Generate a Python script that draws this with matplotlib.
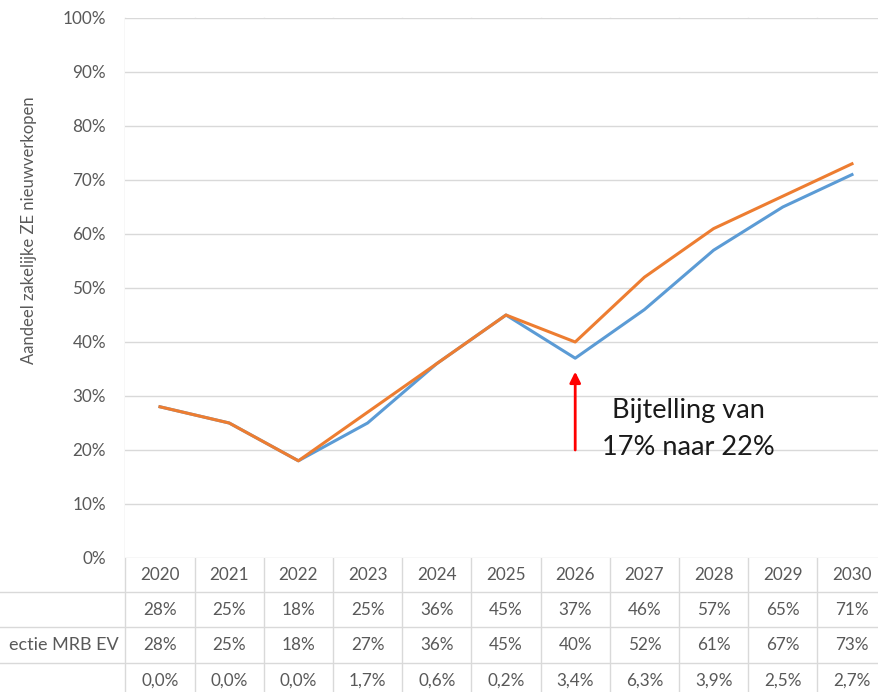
import matplotlib
matplotlib.use("Agg")
import matplotlib.pyplot as plt
from matplotlib.lines import Line2D
from matplotlib.transforms import blended_transform_factory

plt.rcParams['font.family'] = ['Lato', 'DejaVu Sans']

# ---- data ----
years = ['2020', '2021', '2022', '2023', '2024', '2025', '2026', '2027', '2028', '2029', '2030']
base = [0.28, 0.25, 0.18, 0.25, 0.36, 0.45, 0.37, 0.46, 0.57, 0.65, 0.71]
mrb = [0.28, 0.25, 0.18, 0.27, 0.36, 0.45, 0.40, 0.52, 0.61, 0.67, 0.73]
diff_labels = ['0,0%', '0,0%', '0,0%', '1,7%', '0,6%', '0,2%', '3,4%', '6,3%', '3,9%', '2,5%', '2,7%']
row_labels = ['', 'ectie MRB EV', '']   # label is cropped at the left edge in the reference
y_ticks = [0, 0.1, 0.2, 0.3, 0.4, 0.5, 0.6, 0.7, 0.8, 0.9, 1.0]
y_title = 'Aandeel zakelijke ZE nieuwverkopen'
note = 'Bijtelling van\n17% naar 22%'

W, H = 879, 692
fig = plt.figure(figsize=(W / 100, H / 100), dpi=100)
fig.patch.set_facecolor('white')

def fx(px):
    return px / W

def fy(py):
    return 1 - py / H

left, right, top, bottom = 125.4, 886.6, 18, 558
ax = fig.add_axes([fx(left), fy(bottom), (right - left) / W, (bottom - top) / H])
ax.set_xlim(-0.5, len(years) - 0.5)
ax.set_ylim(0, 1)
for s in ax.spines.values():
    s.set_visible(False)

grid_c = '#D9D9D9'
txt_c = '#595959'
fs = 12.3

ax.set_yticks(y_ticks)
ax.set_yticklabels([f'{int(round(v * 100))}%' for v in y_ticks], fontsize=fs, color=txt_c)
ax.tick_params(axis='y', length=0, pad=14)
ax.set_xticks([])
for v in y_ticks:
    ax.axhline(v, color=grid_c, lw=1.0, zorder=0)

xs = list(range(len(years)))
ax.plot(xs, base, color='#5B9BD5', lw=2.2, zorder=3, solid_joinstyle='round')
ax.plot(xs, mrb, color='#ED7D31', lw=2.2, zorder=4, solid_joinstyle='round')

# vertical category lines through plot and table
tr = blended_transform_factory(ax.transData, fig.transFigure)
for k in range(len(years) + 1):
    fig.add_artist(Line2D([k - 0.5, k - 0.5], [fy(top), 0], transform=tr,
                          color=grid_c, lw=1.0, zorder=0))

# table horizontal lines
for py in [592, 627, 663]:
    fig.add_artist(Line2D([0, 1], [fy(py), fy(py)], transform=fig.transFigure,
                          color=grid_c, lw=1.0, zorder=0))

# table text
row_y = [575, 610, 645, 681]
for i in xs:
    ax.text(i, fy(row_y[0]), years[i], transform=tr,
            ha='center', va='center', fontsize=fs, color=txt_c)
    ax.text(i, fy(row_y[1]), f'{int(round(base[i] * 100))}%', transform=tr,
            ha='center', va='center', fontsize=fs, color=txt_c)
    ax.text(i, fy(row_y[2]), f'{int(round(mrb[i] * 100))}%', transform=tr,
            ha='center', va='center', fontsize=fs, color=txt_c)
    ax.text(i, fy(row_y[3]), diff_labels[i], transform=tr,
            ha='center', va='center', fontsize=fs, color=txt_c)
for j, lab in enumerate(row_labels):
    if lab:
        fig.text(fx(119), fy(row_y[j + 1]), lab, ha='right', va='center',
                 fontsize=fs + 0.7, color=txt_c)

# y-axis title
fig.text(fx(29), fy(230), y_title, rotation=90, ha='center', va='center',
         fontsize=12, color=txt_c)

# annotation
ax.annotate('', xy=(6, 0.345), xytext=(6, 0.20),
            arrowprops=dict(arrowstyle='-|>', color='#FF0000', lw=2.0,
                            mutation_scale=16, shrinkA=0, shrinkB=0), zorder=5)
ax.text(7.63, 0.239, note, ha='center', va='center', fontsize=19.5,
        color='#1A1A1A', linespacing=1.6, zorder=5)

fig.savefig('out.png', dpi=100, facecolor='white')
